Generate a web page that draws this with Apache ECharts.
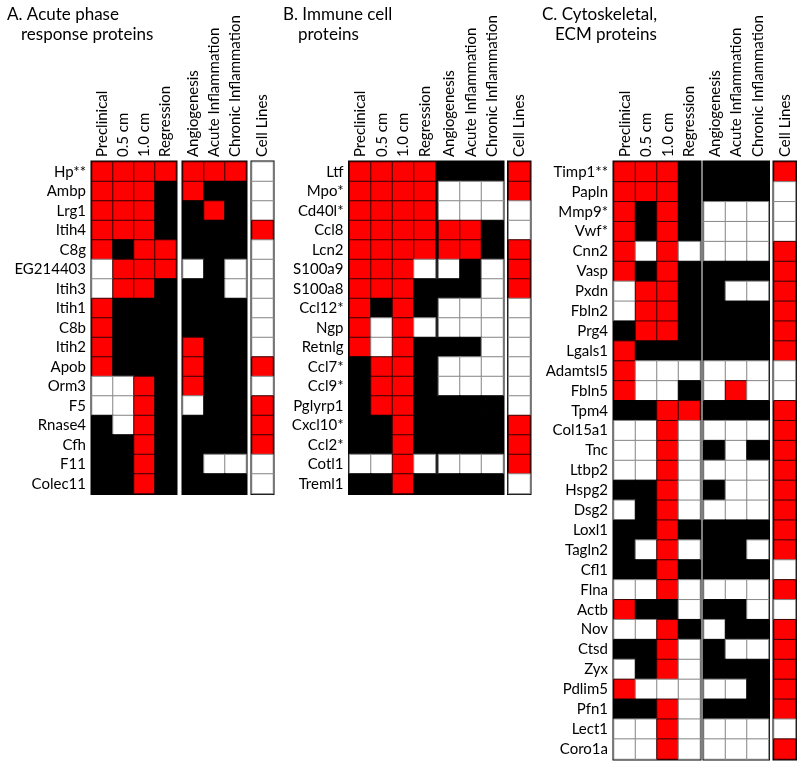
<!DOCTYPE html>
<html>
<head>
<meta charset="utf-8">
<script src="https://cdn.jsdelivr.net/npm/echarts@6/dist/echarts.min.js"></script>
<style>html,body{margin:0;padding:0;background:#fff;}#c{width:800px;height:764px;}</style>
</head>
<body>
<div id="c"></div>
<script>
// 2 = red, 1 = black, 0 = white
const colsStage = ['Preclinical', '0.5 cm', '1.0 cm', 'Regression'];
const colsModel = ['Angiogenesis', 'Acute Inflammation', 'Chronic Inflammation'];
const colsCell = ['Cell Lines'];

const genesA = ['Hp**', 'Ambp', 'Lrg1', 'Itih4', 'C8g', 'EG214403', 'Itih3', 'Itih1', 'C8b', 'Itih2', 'Apob', 'Orm3', 'F5', 'Rnase4', 'Cfh', 'F11', 'Colec11'];
const stageA = [[2,2,2,2],[2,2,2,1],[2,2,2,1],[2,2,2,1],[2,1,2,2],[0,2,2,2],[0,2,2,1],[2,1,1,1],[2,1,1,1],[2,1,1,1],[2,1,1,1],[0,0,2,1],[0,0,2,1],[1,0,2,1],[1,1,2,1],[1,1,2,1],[1,1,2,1]];
const modelA = [[2,2,2],[2,1,1],[1,2,1],[1,1,1],[1,1,1],[0,1,0],[1,1,0],[1,1,1],[1,1,1],[2,1,1],[2,1,1],[2,1,1],[0,1,1],[1,1,1],[1,1,1],[1,0,0],[1,1,1]];
const cellA = [0,0,0,2,0,0,0,0,0,0,2,0,2,2,2,0,0];

const genesB = ['Ltf', 'Mpo*', 'Cd40l*', 'Ccl8', 'Lcn2', 'S100a9', 'S100a8', 'Ccl12*', 'Ngp', 'Retnlg', 'Ccl7*', 'Ccl9*', 'Pglyrp1', 'Cxcl10*', 'Ccl2*', 'Cotl1', 'Treml1'];
const stageB = [[2,2,2,2],[2,2,2,2],[2,2,2,2],[2,2,2,2],[2,2,2,2],[2,2,2,0],[2,2,2,1],[2,1,2,1],[2,0,2,0],[2,0,2,1],[1,2,2,1],[1,2,2,1],[1,2,2,1],[1,1,2,1],[1,1,2,1],[0,0,2,0],[1,1,2,1]];
const modelB = [[1,1,1],[0,0,0],[0,0,0],[2,2,1],[2,2,1],[0,1,0],[1,1,0],[0,0,0],[0,0,0],[1,1,0],[0,0,0],[0,0,0],[1,1,1],[1,1,1],[1,1,1],[0,0,0],[1,1,1]];
const cellB = [2,2,0,0,2,2,2,0,0,0,0,0,0,2,2,2,0];

const genesC = ['Timp1**', 'Papln', 'Mmp9*', 'Vwf*', 'Cnn2', 'Vasp', 'Pxdn', 'Fbln2', 'Prg4', 'Lgals1', 'Adamtsl5', 'Fbln5', 'Tpm4', 'Col15a1', 'Tnc', 'Ltbp2', 'Hspg2', 'Dsg2', 'Loxl1', 'Tagln2', 'Cfl1', 'Flna', 'Actb', 'Nov', 'Ctsd', 'Zyx', 'Pdlim5', 'Pfn1', 'Lect1', 'Coro1a'];
const stageC = [[2,2,2,1],[2,2,2,1],[2,1,2,1],[2,1,2,1],[2,0,2,0],[2,1,2,1],[0,2,2,1],[0,2,2,1],[1,2,2,1],[2,1,1,1],[2,0,0,0],[2,0,0,1],[1,1,2,2],[0,0,2,0],[0,0,2,0],[0,0,2,0],[1,1,2,0],[0,1,2,0],[1,1,2,1],[1,0,2,0],[1,1,2,1],[0,0,2,0],[2,1,1,0],[0,0,2,1],[1,1,2,0],[0,1,2,0],[2,0,0,0],[1,1,2,0],[0,0,2,0],[0,0,2,0]];
const modelC = [[1,1,1],[1,1,1],[0,0,0],[0,0,0],[0,0,0],[1,1,1],[1,0,0],[1,1,1],[1,1,1],[1,1,1],[0,0,0],[0,2,0],[1,1,1],[0,0,0],[1,0,1],[0,0,0],[1,0,0],[0,0,0],[1,1,1],[1,1,0],[1,1,1],[0,0,0],[1,1,0],[0,1,1],[1,0,0],[1,1,1],[0,0,1],[1,1,1],[0,0,0],[0,0,0]];
const cellC = [2,0,0,0,2,2,2,2,2,2,0,0,2,2,2,2,2,2,2,2,0,2,0,2,2,2,2,2,0,2];

const FONT = 'Lato';
const panels = [
  {genes: genesA, blocks: [stageA, modelA, cellA.map(v => [v])], lefts: [92, 183, 252], cw: 21, top: 162, rh: 19.5},
  {genes: genesB, blocks: [stageB, modelB, cellB.map(v => [v])], lefts: [349.5, 438.5, 508.5], cw: 21.5, top: 162, rh: 19.5},
  {genes: genesC, blocks: [stageC, modelC, cellC.map(v => [v])], lefts: [614, 704, 774], cw: 21.5, top: 162, rh: 19.9}
];
const colSets = [colsStage, colsModel, colsCell];
const borderFor = v => v === 2 ? '#3a0000' : (v === 1 ? '#000' : '#888');

const grid = [], xAxis = [], yAxis = [], series = [];
panels.forEach((p, pi) => {
  p.blocks.forEach((mat, bi) => {
    const gi = grid.length;
    const cols = colSets[bi];
    grid.push({left: p.lefts[bi], top: p.top, width: p.cw * cols.length, height: p.rh * p.genes.length,
      show: true, borderColor: '#000', borderWidth: 3, backgroundColor: 'transparent'});
    xAxis.push({type: 'category', gridIndex: gi, data: cols, position: 'top',
      axisLine: {show: false}, axisTick: {show: false}, splitLine: {show: false},
      axisLabel: {rotate: -90, interval: 0, margin: 5, fontSize: 15, fontFamily: FONT, color: '#000'}});
    yAxis.push({type: 'category', gridIndex: gi, data: p.genes, inverse: true,
      axisLine: {show: false}, axisTick: {show: false}, splitLine: {show: false},
      axisLabel: {show: bi === 0, interval: 0, margin: 6, fontSize: 15, fontFamily: FONT, color: '#000'}});
    const data = [];
    mat.forEach((row, ri) => row.forEach((v, ci) => {
      data.push({value: [ci, ri, v], itemStyle: {borderColor: borderFor(v), borderWidth: 1}});
    }));
    series.push({type: 'heatmap', xAxisIndex: gi, yAxisIndex: gi, data: data, emphasis: {disabled: true}, animation: false});
  });
});

const titles = [
  ['A. Acute phase', 7, 6], ['response proteins', 21, 26],
  ['B. Immune cell', 283, 6], ['proteins', 298, 26],
  ['C. Cytoskeletal,', 542, 6], ['ECM proteins', 555, 26]
];
const graphic = titles.map(t => ({type: 'text', left: t[1], top: t[2], z: 10,
  style: {text: t[0], font: '17px ' + FONT, fill: '#000'}}));

const chart = echarts.init(document.getElementById('c'), null, {renderer: 'canvas'});
chart.setOption({
  animation: false,
  grid, xAxis, yAxis, series, graphic,
  visualMap: {type: 'piecewise', show: false, seriesIndex: series.map((s, i) => i), dimension: 2,
    pieces: [{value: 0, color: '#ffffff'}, {value: 1, color: '#000000'}, {value: 2, color: '#ff0000'}]}
});
</script>
</body>
</html>
